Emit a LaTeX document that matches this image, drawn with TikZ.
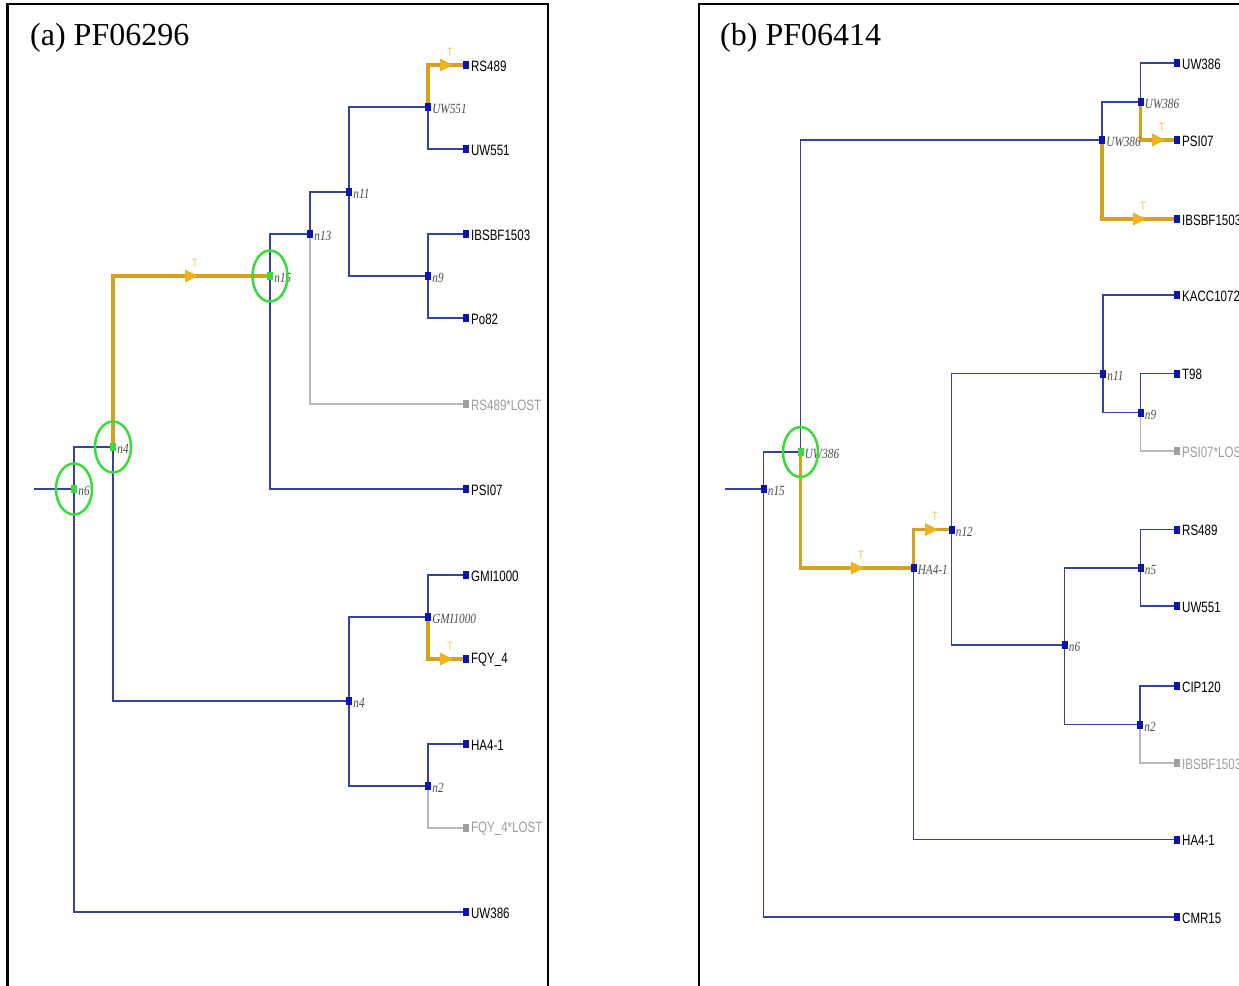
\documentclass[tikz,border=0pt]{standalone}
\usepackage{fontspec}
\setmainfont{Liberation Serif}
\newfontfamily\leaffont[FakeStretch=0.77]{Liberation Sans}
\newfontfamily\intfont[FakeStretch=0.8]{Liberation Serif}
\usetikzlibrary{backgrounds}
\definecolor{nodeblue}{HTML}{0A14B4}
\definecolor{linblue}{HTML}{34449E}
\definecolor{gold}{HTML}{D6A21E}
\definecolor{goldfill}{HTML}{EEB21A}
\definecolor{tcol}{HTML}{EDC84A}
\definecolor{lostgrey}{HTML}{B8B8B8}
\definecolor{losttext}{HTML}{9C9C9C}
\definecolor{hlgreen}{HTML}{3ADC3A}
\tikzset{
 sq/.style={rectangle, fill=nodeblue, inner sep=0pt, minimum width=6pt, minimum height=8pt},
 ilab/.style={font=\intfont\itshape\fontsize{14}{14}\selectfont, text=black!70, inner sep=1pt, yshift=-2pt},
 llab/.style={font=\leaffont\fontsize{15}{15}\selectfont, inner sep=1.5pt, yshift=-1pt},
 tlab/.style={font=\leaffont\fontsize{12}{12}\selectfont, text=tcol, inner sep=0pt},
 inode/.style={sq, label={[ilab]east:#1}},
 hnode/.style={sq, fill=hlgreen, label={[ilab]east:#1}},
 leaf/.style={sq, minimum width=6.5pt, label={[llab]east:#1}},
 lostleaf/.style={sq, fill=gray!75, minimum width=6.5pt, label={[llab,text=losttext]east:#1}},
 bl/.style={draw=linblue, line width=1.4pt},
 gr/.style={draw=lostgrey, line width=1.4pt},
 yl/.style={draw=gold, line width=3.5pt},
 ring/.style={draw=hlgreen, line width=2.5pt},
 frame/.style={draw=black, line width=2.5pt},
 title/.style={anchor=base west, font=\fontsize{32}{32}\selectfont, inner sep=0pt}
}
\newcommand\ymark[3]{%
 \fill[goldfill] (#1-6,#2-6.5) -- (#1+7,#2) -- (#1-6,#2+6.5) -- cycle;
 \node[tlab] (#3) at (#1+4,#2-13) {T};}
\begin{document}
\begin{tikzpicture}[x=1pt,y=-1pt]
\useasboundingbox (0,0) rectangle (1239,985);
\clip (0,0) rectangle (1239,985);
% ---------------- panel (a) ----------------
\draw[frame] (7.5,4) rectangle (548,1000);
\node[title] (ta) at (30,45) {(a) PF06296};
\coordinate (a-root) at (34,489);
\node[hnode=n6] (a-n6) at (74,489) {};
\node[hnode=n4] (a-n4) at (113,447) {};
\node[hnode=n15] (a-n15) at (270,276) {};
\node[inode=n13] (a-n13) at (310,234) {};
\node[inode=n11] (a-n11) at (349,192) {};
\node[inode=UW551] (a-UW551i) at (428,107) {};
\node[inode=n9] (a-n9) at (428,276) {};
\node[inode=n4] (a-n4b) at (349,701) {};
\node[inode=GMI1000] (a-GMIi) at (428,617) {};
\node[inode=n2] (a-n2) at (428,786) {};
\node[leaf=RS489] (a-RS489) at (466,65) {};
\node[leaf=UW551] (a-UW551) at (466,149) {};
\node[leaf=IBSBF1503] (a-IBSBF) at (466,234) {};
\node[leaf=Po82] (a-Po82) at (466,318) {};
\node[lostleaf=RS489*LOST] (a-RS489L) at (466,404) {};
\node[leaf=PSI07] (a-PSI07) at (466,489) {};
\node[leaf=GMI1000] (a-GMI1000) at (466,575) {};
\node[leaf=FQY\_4] (a-FQY4) at (466,659) {};
\node[leaf=HA4-1] (a-HA41) at (466,744) {};
\node[lostleaf=FQY\_4*LOST] (a-FQY4L) at (466,828) {};
\node[leaf=UW386] (a-UW386) at (466,912) {};
% ---------------- panel (b) ----------------
\draw[frame] (699,4) rectangle (1260,1000);
\node[title] (tb) at (720,45) {(b) PF06414};
\coordinate (b-root) at (725,489);
\node[inode=n15] (b-n15) at (763.5,489) {};
\node[hnode=UW386] (b-UWg) at (800.5,452) {};
\node[inode=UW386] (b-UWlo) at (1102,140) {};
\node[inode=UW386] (b-UWup) at (1140.5,102) {};
\node[inode=HA4-1] (b-HAi) at (913.5,568) {};
\node[inode=n12] (b-n12) at (951.5,529.5) {};
\node[inode=n11] (b-n11) at (1103,373.5) {};
\node[inode=n9] (b-n9) at (1140.5,412.5) {};
\node[inode=n6] (b-n6) at (1064.5,645) {};
\node[inode=n5] (b-n5) at (1140.5,568) {};
\node[inode=n2] (b-n2) at (1140,724.5) {};
\node[leaf=UW386] (b-UW386) at (1177,63) {};
\node[leaf=PSI07] (b-PSI07) at (1177,140) {};
\node[leaf=IBSBF1503] (b-IBSBF) at (1177,219) {};
\node[leaf=KACC10722] (b-KACC) at (1177,295) {};
\node[leaf=T98] (b-T98) at (1177,373.5) {};
\node[lostleaf=PSI07*LOST] (b-PSI07L) at (1177,451) {};
\node[leaf=RS489] (b-RS489) at (1177,529.5) {};
\node[leaf=UW551] (b-UW551) at (1177,606) {};
\node[leaf=CIP120] (b-CIP120) at (1177,686) {};
\node[lostleaf=IBSBF1503] (b-IBSBFL) at (1177,763) {};
\node[leaf=HA4-1] (b-HA41) at (1177,839.5) {};
\node[leaf=CMR15] (b-CMR15) at (1177,917) {};
% ---------------- edges ----------------
\begin{scope}[on background layer]
 % (a)
 \draw[bl] (a-root) -- (a-n6.center);
 \draw[bl] (a-n6.center) |- (a-n4.center);
 \draw[bl] (a-n6.center) |- (a-UW386.center);
 \draw[bl] (a-n4.center) |- (a-n4b.center);
 \draw[bl] (a-n15.center) |- (a-n13.center);
 \draw[bl] (a-n15.center) |- (a-PSI07.center);
 \draw[bl] (a-n13.center) |- (a-n11.center);
 \draw[gr] (a-n13.center) |- (a-RS489L.center);
 \draw[bl] (a-n11.center) |- (a-UW551i.center);
 \draw[bl] (a-n11.center) |- (a-n9.center);
 \draw[bl] (a-UW551i.center) |- (a-UW551.center);
 \draw[bl] (a-n9.center) |- (a-IBSBF.center);
 \draw[bl] (a-n9.center) |- (a-Po82.center);
 \draw[bl] (a-n4b.center) |- (a-GMIi.center);
 \draw[bl] (a-n4b.center) |- (a-n2.center);
 \draw[bl] (a-GMIi.center) |- (a-GMI1000.center);
 \draw[bl] (a-n2.center) |- (a-HA41.center);
 \draw[gr] (a-n2.center) |- (a-FQY4L.center);
 \draw[yl] (a-n4.center) |- (a-n15.center);
 \draw[yl] (a-UW551i.center) |- (a-RS489.center);
 \draw[yl] (a-GMIi.center) |- (a-FQY4.center);
 % (b)
 \draw[bl] (b-root) -- (b-n15.center);
 \draw[bl] (b-n15.center) |- (b-UWg.center);
 \draw[bl] (b-n15.center) |- (b-CMR15.center);
 \draw[bl] (b-UWg.center) |- (b-UWlo.center);
 \draw[bl] (b-UWlo.center) |- (b-UWup.center);
 \draw[bl] (b-UWup.center) |- (b-UW386.center);
 \draw[bl] (b-HAi.center) |- (b-HA41.center);
 \draw[bl] (b-n12.center) |- (b-n11.center);
 \draw[bl] (b-n12.center) |- (b-n6.center);
 \draw[bl] (b-n11.center) |- (b-KACC.center);
 \draw[bl] (b-n11.center) |- (b-n9.center);
 \draw[bl] (b-n9.center) |- (b-T98.center);
 \draw[gr] (b-n9.center) |- (b-PSI07L.center);
 \draw[bl] (b-n6.center) |- (b-n5.center);
 \draw[bl] (b-n6.center) |- (b-n2.center);
 \draw[bl] (b-n5.center) |- (b-RS489.center);
 \draw[bl] (b-n5.center) |- (b-UW551.center);
 \draw[bl] (b-n2.center) |- (b-CIP120.center);
 \draw[gr] (b-n2.center) |- (b-IBSBFL.center);
 \draw[yl] (b-UWg.center) |- (b-HAi.center);
 \draw[yl] (b-HAi.center) |- (b-n12.center);
 \draw[yl] (b-UWlo.center) |- (b-IBSBF.center);
 \draw[yl] (b-UWup.center) |- (b-PSI07.center);
\end{scope}
% ---------------- transfer arrows ----------------
\ymark{191}{276}{t1}
\ymark{446}{65}{t2}
\ymark{446}{659}{t3}
\ymark{857}{568}{t4}
\ymark{931}{529.5}{t5}
\ymark{1139}{219}{t6}
\ymark{1158}{140}{t7}
% ---------------- highlight rings ----------------
\draw[ring] (a-n6) ellipse [x radius=18pt, y radius=25.5pt];
\draw[ring] (a-n4) ellipse [x radius=18pt, y radius=25.5pt];
\draw[ring] (a-n15) ellipse [x radius=17.5pt, y radius=25.5pt];
\draw[ring] (b-UWg) ellipse [x radius=17.5pt, y radius=25pt];
\end{tikzpicture}
\end{document}
